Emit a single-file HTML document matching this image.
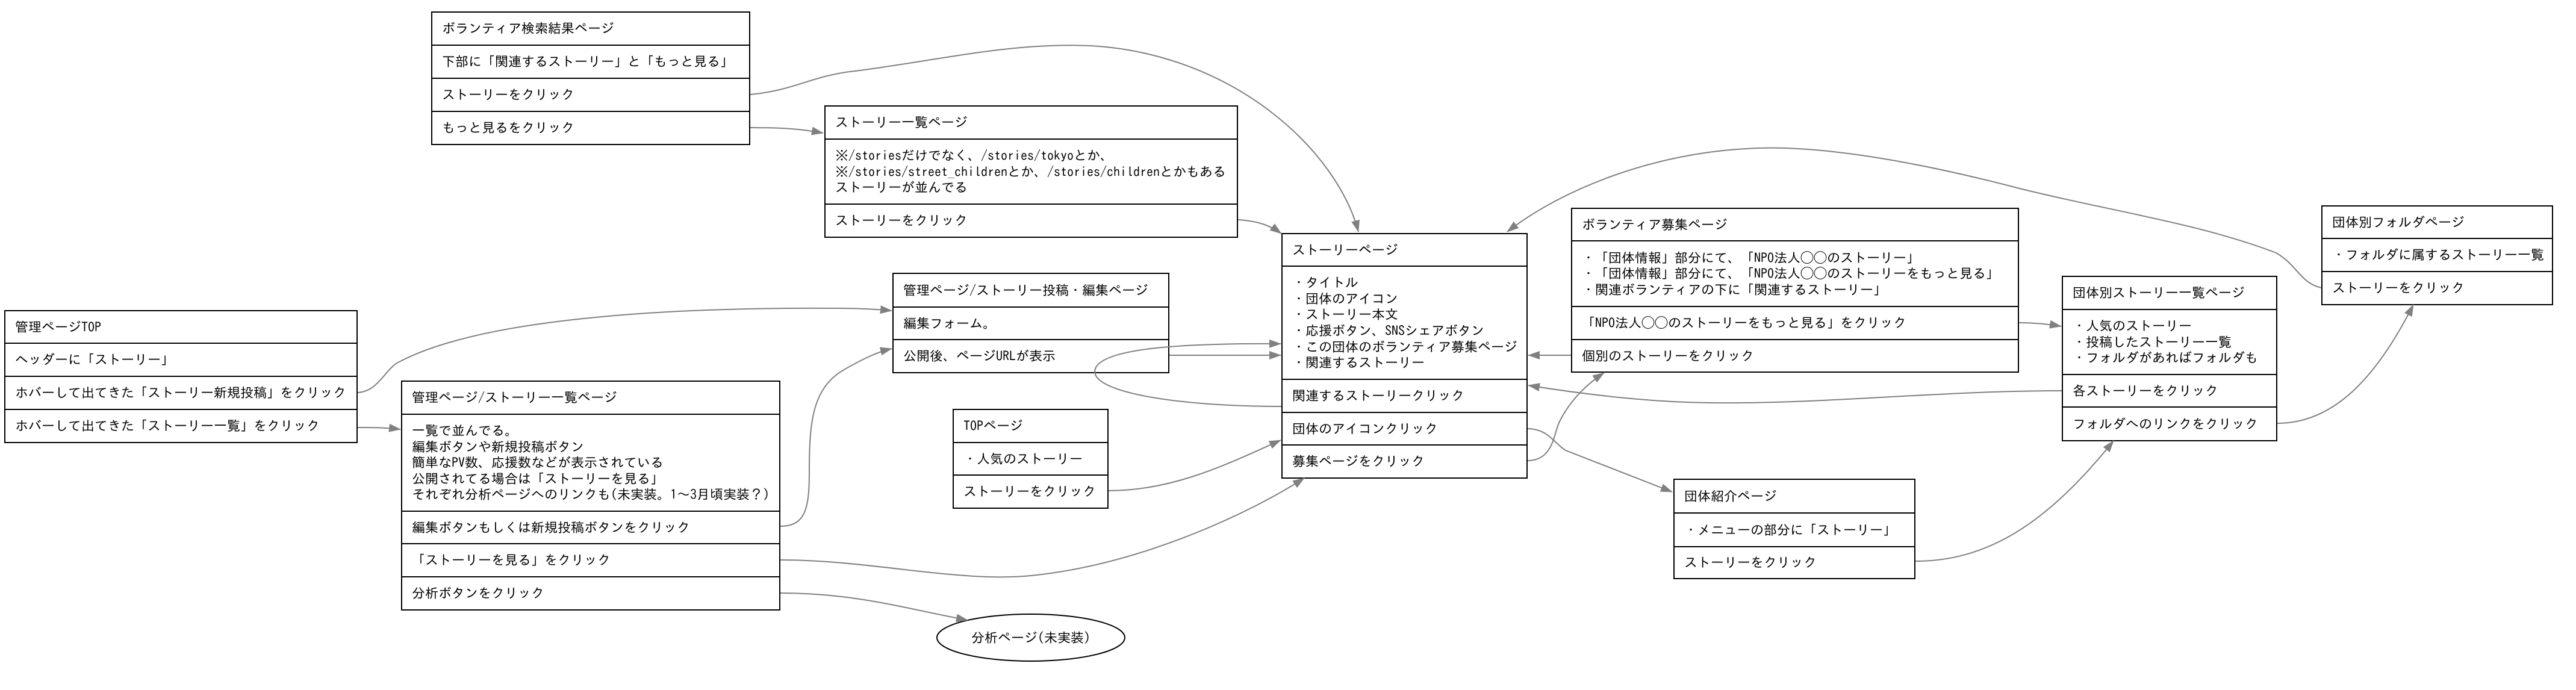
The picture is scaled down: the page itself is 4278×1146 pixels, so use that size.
<!DOCTYPE html>
<html><head><meta charset="utf-8">
<style>
html,body{margin:0;padding:0;background:#fff;}
body{width:4278px;height:1146px;position:relative;overflow:hidden;font-family:"IPAGothic","Noto Sans CJK JP","Liberation Sans",sans-serif;font-size:22px;color:#000;}
.r{position:absolute;box-sizing:border-box;border:2px solid #000;background:#fff;display:flex;align-items:center;padding-left:16px;line-height:26.6px;white-space:nowrap;}
svg{position:absolute;left:0;top:0;}
</style></head><body>

<!-- ボランティア検索結果ページ -->
<div class="r" style="left:716px;top:19px;width:530px;height:57px">ボランティア検索結果ページ</div>
<div class="r" style="left:716px;top:74px;width:530px;height:57px">下部に「関連するストーリー」と「もっと見る」</div>
<div class="r" style="left:716px;top:129px;width:530px;height:57px">ストーリーをクリック</div>
<div class="r" style="left:716px;top:184px;width:530px;height:57px">もっと見るをクリック</div>

<!-- 管理ページTOP -->
<div class="r" style="left:7px;top:515px;width:587px;height:56px">管理ページTOP</div>
<div class="r" style="left:7px;top:569px;width:587px;height:57px">ヘッダーに「ストーリー」</div>
<div class="r" style="left:7px;top:624px;width:587px;height:57px">ホバーして出てきた「ストーリー新規投稿」をクリック</div>
<div class="r" style="left:7px;top:679px;width:587px;height:57px">ホバーして出てきた「ストーリー一覧」をクリック</div>

<!-- 管理ページ/ストーリー一覧ページ -->
<div class="r" style="left:666px;top:632px;width:630px;height:57px">管理ページ/ストーリー一覧ページ</div>
<div class="r" style="left:666px;top:687px;width:630px;height:163px">一覧で並んでる。<br>編集ボタンや新規投稿ボタン<br>簡単なPV数、応援数などが表示されている<br>公開されてる場合は「ストーリーを見る」<br>それぞれ分析ページへのリンクも(未実装。1～3月頃実装？)</div>
<div class="r" style="left:666px;top:848px;width:630px;height:56px">編集ボタンもしくは新規投稿ボタンをクリック</div>
<div class="r" style="left:666px;top:902px;width:630px;height:57px">「ストーリーを見る」をクリック</div>
<div class="r" style="left:666px;top:957px;width:630px;height:57px">分析ボタンをクリック</div>

<!-- ストーリー一覧ページ -->
<div class="r" style="left:1369px;top:175px;width:687px;height:57px">ストーリー一覧ページ</div>
<div class="r" style="left:1369px;top:230px;width:687px;height:110px">※/storiesだけでなく、/stories/tokyoとか、<br>※/stories/street_childrenとか、/stories/childrenとかもある<br>ストーリーが並んでる</div>
<div class="r" style="left:1369px;top:338px;width:687px;height:57px">ストーリーをクリック</div>

<!-- 管理ページ/ストーリー投稿・編集ページ -->
<div class="r" style="left:1482px;top:453px;width:460px;height:58px">管理ページ/ストーリー投稿・編集ページ</div>
<div class="r" style="left:1482px;top:509px;width:460px;height:56px">編集フォーム。</div>
<div class="r" style="left:1482px;top:563px;width:460px;height:57px">公開後、ページURLが表示</div>

<!-- TOPページ -->
<div class="r" style="left:1582px;top:679px;width:259px;height:57px">TOPページ</div>
<div class="r" style="left:1582px;top:734px;width:259px;height:56px">・人気のストーリー</div>
<div class="r" style="left:1582px;top:788px;width:259px;height:57px">ストーリーをクリック</div>

<!-- ストーリーページ -->
<div class="r" style="left:2128px;top:387px;width:409px;height:56px">ストーリーページ</div>
<div class="r" style="left:2128px;top:441px;width:409px;height:190px">・タイトル<br>・団体のアイコン<br>・ストーリー本文<br>・応援ボタン、SNSシェアボタン<br>・この団体のボランティア募集ページ<br>・関連するストーリー</div>
<div class="r" style="left:2128px;top:629px;width:409px;height:57px">関連するストーリークリック</div>
<div class="r" style="left:2128px;top:684px;width:409px;height:56px">団体のアイコンクリック</div>
<div class="r" style="left:2128px;top:738px;width:409px;height:57px">募集ページをクリック</div>

<!-- ボランティア募集ページ -->
<div class="r" style="left:2609px;top:345px;width:744px;height:56px">ボランティア募集ページ</div>
<div class="r" style="left:2609px;top:399px;width:744px;height:111px">・「団体情報」部分にて、「NPO法人◯◯のストーリー」<br>・「団体情報」部分にて、「NPO法人◯◯のストーリーをもっと見る」<br>・関連ボランティアの下に「関連するストーリー」</div>
<div class="r" style="left:2609px;top:508px;width:744px;height:57px">「NPO法人◯◯のストーリーをもっと見る」をクリック</div>
<div class="r" style="left:2609px;top:563px;width:744px;height:56px">個別のストーリーをクリック</div>

<!-- 団体別ストーリー一覧ページ -->
<div class="r" style="left:3424px;top:458px;width:358px;height:57px">団体別ストーリー一覧ページ</div>
<div class="r" style="left:3424px;top:513px;width:358px;height:110px">・人気のストーリー<br>・投稿したストーリー一覧<br>・フォルダがあればフォルダも</div>
<div class="r" style="left:3424px;top:621px;width:358px;height:56px">各ストーリーをクリック</div>
<div class="r" style="left:3424px;top:675px;width:358px;height:58px">フォルダへのリンクをクリック</div>

<!-- 団体別フォルダページ -->
<div class="r" style="left:3855px;top:341px;width:385px;height:56px">団体別フォルダページ</div>
<div class="r" style="left:3855px;top:395px;width:385px;height:57px">・フォルダに属するストーリー一覧</div>
<div class="r" style="left:3855px;top:450px;width:385px;height:57px">ストーリーをクリック</div>

<!-- 団体紹介ページ -->
<div class="r" style="left:2779px;top:795px;width:402px;height:58px">団体紹介ページ</div>
<div class="r" style="left:2779px;top:851px;width:402px;height:58px">・メニューの部分に「ストーリー」</div>
<div class="r" style="left:2779px;top:907px;width:402px;height:55px">ストーリーをクリック</div>

<svg width="4278" height="1146" viewBox="0 0 4278 1146">
<defs>
<marker id="a" markerUnits="userSpaceOnUse" markerWidth="20" markerHeight="14" refX="19" refY="7" orient="auto">
<path d="M0,0 L20,7 L0,14 z" fill="#808080"/>
</marker>
</defs>
<ellipse cx="1712" cy="1059" rx="156" ry="39" fill="#fff" stroke="#000" stroke-width="2"/>
<text x="1712" y="1067" text-anchor="middle" font-family="IPAGothic, 'Noto Sans CJK JP', sans-serif" font-size="22">分析ページ(未実装)</text>
<g fill="none" stroke="#808080" stroke-width="2" marker-end="url(#a)">
<path d="M1246,157 C1320,150 1350,125 1420,118 C1560,100 1680,70 1812,76 C2050,90 2220,250 2256,385"/>
<path d="M1246,212 C1300,212 1330,214 1367,221"/>
<path d="M2056,365 C2090,367 2110,375 2128,388"/>
<path d="M594,652 C630,650 640,610 665,600 C800,530 1100,510 1390,512 C1430,512 1460,514 1481,516"/>
<path d="M594,710 C620,710 640,710 665,713"/>
<path d="M1296,874 C1340,874 1344,840 1344,780 C1344,700 1350,645 1400,615 C1440,592 1460,584 1481,579"/>
<path d="M1942,590 L2127,590"/>
<path d="M2128,675 C1950,675 1800,650 1820,610 C1840,575 1990,570 2127,571"/>
<path d="M1841,815 C1950,815 2040,770 2127,731"/>
<path d="M1296,930 C1450,930 1600,970 1722,955 C1900,935 2080,850 2166,794"/>
<path d="M1296,985 C1420,985 1500,1010 1607,1030"/>
<path d="M2537,712 C2570,712 2580,735 2600,748 L2777,817"/>
<path d="M2537,765 C2580,765 2580,720 2590,700 C2610,660 2640,635 2664,619"/>
<path d="M2609,590 L2538,590"/>
<path d="M3424,649 C3200,649 3000,675 2800,668 C2700,664 2600,650 2538,640"/>
<path d="M3855,478 C3820,470 3815,440 3780,420 C3650,370 3500,350 3350,312 C3150,260 3000,240 2900,247 C2750,255 2600,310 2503,385"/>
<path d="M3353,536 C3380,536 3400,538 3423,542"/>
<path d="M3782,703 C3880,703 3950,620 4008,506"/>
<path d="M3181,932 C3300,932 3400,870 3510,732"/>
</g>
</svg>
</body></html>
